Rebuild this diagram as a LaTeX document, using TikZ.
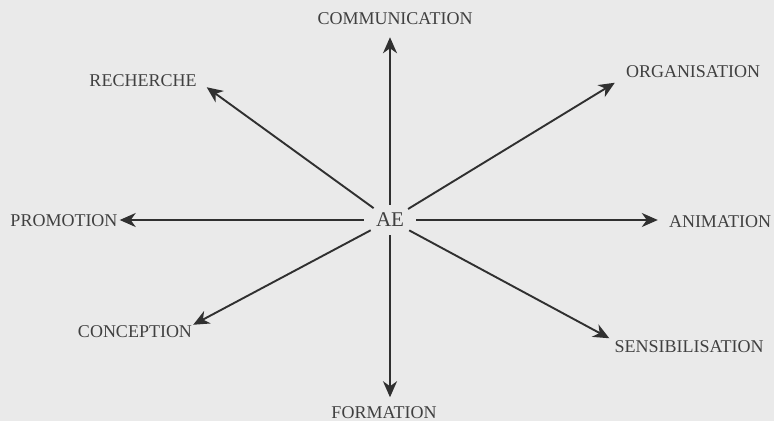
\documentclass[tikz,border=0pt]{standalone}
\usepackage{fontspec}
\setmainfont{Liberation Serif}
\usetikzlibrary{arrows.meta,calc,shapes.geometric}
\definecolor{bg}{HTML}{EAEAEA}
\definecolor{txt}{HTML}{404040}
\definecolor{ln}{HTML}{303030}
\begin{document}
\begin{tikzpicture}[x=1pt,y=-1pt,
  lab/.style={inner sep=0pt, text=txt, font=\fontsize{18}{20}\selectfont},
  arr/.style={draw=ln, line width=1.9pt, -{Stealth[length=16pt,width=14pt,inset=5pt]}}]
\path[fill=bg, use as bounding box] (0,0) rectangle (774,421);
\node[ellipse, minimum width=52pt, minimum height=30pt, inner sep=0pt, text=txt,
      font=\fontsize{21}{24}\selectfont] (AE) at (390,220) {AE};
\node[lab] (COM) at (395,19) {COMMUNICATION};
\node[lab] (REC) at (143,81) {RECHERCHE};
\node[lab] (ORG) at (693,71.5) {ORGANISATION};
\node[lab] (PRO) at (64,221) {PROMOTION};
\node[lab] (ANI) at (720,222) {ANIMATION};
\node[lab] (CON) at (135,332) {CONCEPTION};
\node[lab] (SEN) at (689,346.5) {SENSIBILISATION};
\node[lab] (FOR) at (384,412.5) {FORMATION};
\draw[arr, shorten >=12pt] (AE) -- (AE |- COM.south);
\draw[arr, shorten >=9pt] (AE) -- (AE |- FOR.north);
\draw[arr, shorten >=2pt] (AE) -- (AE -| PRO.east);
\draw[arr, shorten >=11pt] (AE) -- (AE -| ANI.west);
\draw[arr] (AE) -- ($(REC.south east)+(10,0)$);
\draw[arr] (AE) -- ($(ORG.south west)+(-11,5)$);
\draw[arr] (AE) -- ($(CON.north east)+(1,-1)$);
\draw[arr] (AE) -- ($(SEN.north west)+(-5,-2)$);
\end{tikzpicture}
\end{document}
